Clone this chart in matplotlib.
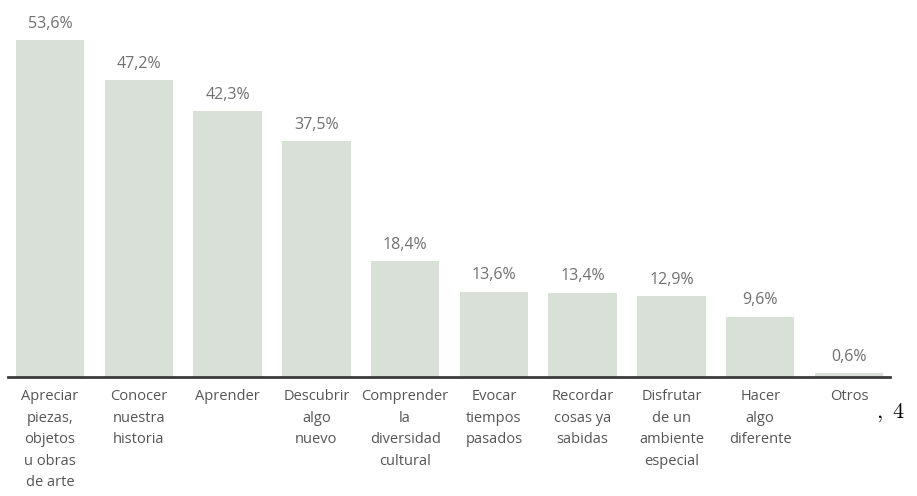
import matplotlib.pyplot as plt

categories = [
    "Apreciar\npiezas,\nobjetos\nu obras\nde arte",
    "Conocer\nnuestra\nhistoria",
    "Aprender",
    "Descubrir\nalgo\nnuevo",
    "Comprender\nla\ndiversidad\ncultural",
    "Evocar\ntiempos\npasados",
    "Recordar\ncosas ya\nsabidas",
    "Disfrutar\nde un\nambiente\nespecial",
    "Hacer\nalgo\ndiferente",
    "Otros",
]
values = [53.6, 47.2, 42.3, 37.5, 18.4, 13.6, 13.4, 12.9, 9.6, 0.6]
value_labels = ["53,6%", "47,2%", "42,3%", "37,5%", "18,4%",
                "13,6%", "13,4%", "12,9%", "9,6%", "0,6%"]

plt.rcParams['font.family'] = ['Open Sans', 'DejaVu Sans']

fig = plt.figure(figsize=(9.17, 4.96), dpi=100)
ax = fig.add_axes([8 / 917, 119 / 496, 882 / 917, 377 / 496])

x = range(len(values))
bars = ax.bar(x, values, width=0.77, color="#d9e0d8")

for b, lab in zip(bars, value_labels):
    ax.annotate(lab, (b.get_x() + b.get_width() / 2, b.get_height()),
                xytext=(0, 6), textcoords="offset points",
                ha="center", va="bottom", fontsize=11.5, color="#707070")

ax.set_xlim(-0.473, 9.462)
ax.set_ylim(0, 60)
ax.set_xticks(list(x))
ax.set_xticklabels(categories, fontsize=10.5, color="#555555", linespacing=1.58,
                   va="top")
ax.tick_params(axis="x", length=0, pad=9)
ax.set_yticks([])
for side in ["top", "left", "right"]:
    ax.spines[side].set_visible(False)
ax.spines["bottom"].set_linewidth(2)
ax.spines["bottom"].set_color("#3c3c3c")

fig.text(0.955, 1 - 413 / 496, r"$,\ 4$", fontsize=16, color="black",
         va="center", ha="left", math_fontfamily="cm")

fig.savefig("out.png", dpi=100)
